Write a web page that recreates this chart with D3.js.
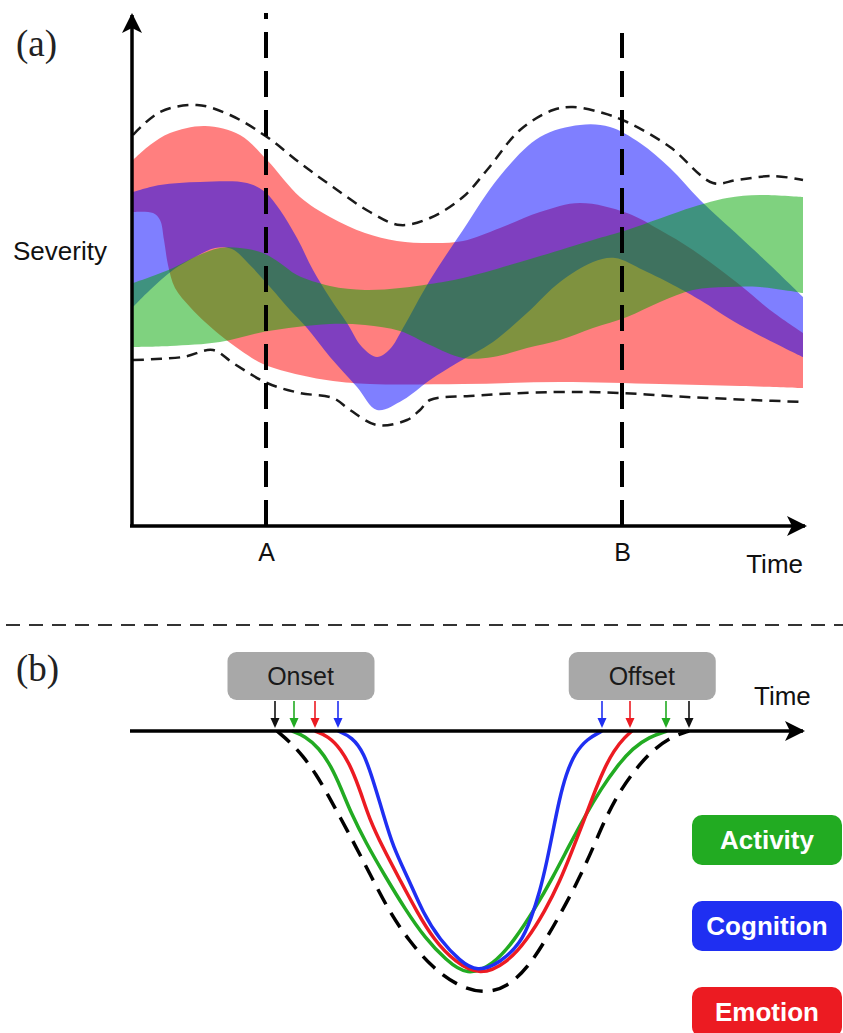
<!DOCTYPE html>
<html>
<head>
<meta charset="utf-8">
<script src="https://cdn.jsdelivr.net/npm/d3@7"></script>
<style>
  body { margin: 0; background: #fff; }
  text { font-family: "Liberation Sans", Arial, sans-serif; }
</style>
</head>
<body>
<svg width="843" height="1033"></svg>
<script>
// ---- data (a): time 0..670, severity 0..500 (arbitrary units) ----
var emotionUpper = [[0,365],[17,380],[37,392],[72,399],[107,390],[134,365],[167,328],[197,308],[232,292],[264,284],[297,282],[330,284],[367,297],[407,313],[447,322],[494,312],[527,295],[560,275],[607,240],[637,215],[670,192]];
var emotionLower = [[0,313],[20,312],[27,305],[31,285],[35,260],[42,237],[57,218],[72,203],[87,190],[107,175],[130,161],[167,150],[200,144],[237,141],[330,141],[427,143],[527,141],[607,139],[670,137]];
var cognitionUpper = [[0,333],[27,340],[67,343],[114,342],[132,333],[147,315],[164,287],[180,255],[197,227],[214,202],[229,178],[244,168],[257,176],[270,197],[297,245],[330,295],[367,349],[407,388],[447,400],[477,398],[507,382],[537,357],[567,325],[607,288],[637,260],[670,228]];
var cognitionLower = [[0,218],[17,235],[40,255],[64,269],[82,277],[99,276],[114,263],[137,238],[157,215],[174,197],[197,168],[224,138],[244,115],[270,125],[297,145],[324,162],[360,183],[394,212],[427,243],[460,263],[482,267],[510,255],[544,238],[567,225],[607,200],[670,168]];
var activityUpper = [[0,242],[17,248],[40,257],[64,269],[87,277],[107,277],[130,272],[147,262],[164,250],[197,239],[232,235],[267,237],[297,241],[330,247],[394,265],[460,285],[494,295],[560,318],[594,327],[627,330],[670,328]];
var activityLower = [[0,178],[37,179],[87,183],[130,193],[164,198],[197,201],[232,200],[267,194],[297,180],[330,167],[360,168],[394,177],[427,185],[460,197],[494,208],[527,223],[560,235],[594,238],[627,238],[670,232]];
var envelopeUpper = [[0,390],[27,413],[64,420],[97,410],[134,388],[167,362],[200,338],[237,313],[267,300],[297,307],[330,328],[354,355],[387,395],[420,415],[440,418],[470,412],[494,403],[537,378],[580,342],[604,345],[640,349],[670,345]];
var envelopeLower = [[0,165],[50,168],[80,175],[100,162],[134,142],[167,132],[200,127],[217,115],[244,100],[274,105],[287,115],[297,125],[337,129],[420,133],[487,132],[554,128],[620,125],[670,123]];
var markerTimes = [133, 489];
var markerLabels = ["A", "B"];

// ---- data (b): time 0..670, depth 0..260 ----
var activityCurve = [[159,0],[172,5],[186,17],[198,35],[208,57],[218,82],[233,112],[252,145],[272,178],[292,207],[313,229],[334,245],[360,234],[381,210],[403,176],[420,146],[436,115],[452,85],[468,58],[484,35],[500,17],[516,6],[534,0]];
var emotionCurve = [[182,0],[195,5],[208,18],[219,38],[228,62],[236,87],[250,117],[267,149],[284,181],[301,209],[322,231],[347,245],[374,232],[394,209],[412,180],[427,150],[439,120],[450,92],[460,65],[470,40],[481,19],[492,6],[499,0]];
var cognitionCurve = [[205,0],[219,6],[231,22],[240,49],[250,82],[260,116],[276,149],[290,182],[307,209],[327,230],[344,241],[367,232],[388,212],[398,188],[407,160],[414,130],[420,100],[426,70],[433,43],[442,22],[454,8],[469,0]];
var envelopeCurve = [[144,0],[157,11],[170,25],[183,43],[195,64],[207,86],[222,114],[239,147],[256,180],[276,210],[300,237],[323,254],[350,263],[375,256],[396,235],[412,210],[428,182],[445,150],[460,117],[473,86],[488,58],[505,35],[522,17],[540,5],[556,0]];
var onsetTimes = [142, 161, 182, 205];
var onsetKeys = ["All", "Activity", "Emotion", "Cognition"];
var offsetTimes = [469, 497, 533, 556];
var offsetKeys = ["Cognition", "Emotion", "Activity", "All"];
var legendNames = ["Activity", "Cognition", "Emotion"];

var bandColor = { Emotion: "#ff0000", Cognition: "#0000ff", Activity: "#00a500" };
var lineColor = { Activity: "#22ab22", Cognition: "#1f2ff2", Emotion: "#ec1b22", All: "#111" };

var svg = d3.select("svg");

// scales
var xa = d3.scaleLinear().domain([0, 670]).range([133, 803]);
var ya = d3.scaleLinear().domain([0, 500]).range([525, 25]);
var yb = d3.scaleLinear().domain([0, 260]).range([731, 991]);

var lineA = d3.line()
  .x(function (d) { return xa(d[0]); })
  .y(function (d) { return ya(d[1]); })
  .curve(d3.curveCatmullRom.alpha(0.5));

var lineB = d3.line()
  .x(function (d) { return xa(d[0]); })
  .y(function (d) { return yb(d[1]); })
  .curve(d3.curveBasis);

function bandPath(upper, lower) {
  var top = lineA(upper);
  var bottom = lineA(lower.slice().reverse());
  return top + "L" + bottom.slice(1) + "Z";
}

// arrowhead marker
svg.append("defs").append("marker")
  .attr("id", "head")
  .attr("viewBox", "0 0 10 10")
  .attr("refX", 9).attr("refY", 5)
  .attr("markerUnits", "userSpaceOnUse")
  .attr("markerWidth", 22).attr("markerHeight", 20)
  .attr("orient", "auto")
  .append("path")
  .attr("d", "M0,0L10,5L0,10L2.5,5Z")
  .attr("fill", "#000");

// ================= panel (a) =================
var bands = [
  { key: "Emotion", upper: emotionUpper, lower: emotionLower },
  { key: "Cognition", upper: cognitionUpper, lower: cognitionLower },
  { key: "Activity", upper: activityUpper, lower: activityLower }
];

svg.append("g").selectAll("path")
  .data(bands)
  .enter().append("path")
  .attr("d", function (d) { return bandPath(d.upper, d.lower); })
  .attr("fill", function (d) { return bandColor[d.key]; })
  .attr("fill-opacity", 0.5);

// dashed envelope
svg.append("g").selectAll("path")
  .data([envelopeUpper, envelopeLower])
  .enter().append("path")
  .attr("d", lineA)
  .attr("fill", "none")
  .attr("stroke", "#1a1a1a")
  .attr("stroke-width", 2.5)
  .attr("stroke-dasharray", "11,7");

// vertical markers A / B
svg.append("g").selectAll("line")
  .data(markerTimes)
  .enter().append("line")
  .attr("x1", function (d) { return xa(d); })
  .attr("x2", function (d) { return xa(d); })
  .attr("y1", 526)
  .attr("y2", function (d, i) { return i == 0 ? 13 : 33; })
  .attr("stroke", "#000")
  .attr("stroke-width", 4)
  .attr("stroke-dasharray", "26,13");

// axes
svg.append("line")
  .attr("x1", 132).attr("y1", 527).attr("x2", 132).attr("y2", 15)
  .attr("stroke", "#000").attr("stroke-width", 3.5)
  .attr("marker-end", "url(#head)");

var xAxis = svg.append("g")
  .attr("transform", "translate(0,526)")
  .call(d3.axisBottom(xa).tickValues(markerTimes)
    .tickFormat(function (d, i) { return markerLabels[i]; })
    .tickSize(0).tickPadding(17));
xAxis.select(".domain").remove();
xAxis.selectAll("text")
  .attr("font-size", "25px")
  .attr("font-family", "Liberation Sans, Arial, sans-serif")
  .attr("fill", "#111");

svg.append("line")
  .attr("x1", 130).attr("y1", 526).attr("x2", 805).attr("y2", 526)
  .attr("stroke", "#000").attr("stroke-width", 3.5)
  .attr("marker-end", "url(#head)");

svg.append("text")
  .attr("x", 803).attr("y", 573)
  .attr("text-anchor", "end")
  .attr("font-size", "26px")
  .attr("fill", "#111")
  .text("Time");

svg.append("text")
  .attr("x", 13).attr("y", 260)
  .attr("font-size", "26px")
  .attr("fill", "#111")
  .text("Severity");

svg.append("text")
  .attr("x", 16).attr("y", 56)
  .attr("font-size", "37px")
  .style("font-family", "Liberation Serif, Times New Roman, serif")
  .attr("fill", "#222")
  .text("(a)");

// separator
svg.append("line")
  .attr("x1", 6).attr("y1", 625).attr("x2", 843).attr("y2", 625)
  .attr("stroke", "#333").attr("stroke-width", 2)
  .attr("stroke-dasharray", "14,9");

// ================= panel (b) =================
svg.append("text")
  .attr("x", 16).attr("y", 681)
  .attr("font-size", "37px")
  .style("font-family", "Liberation Serif, Times New Roman, serif")
  .attr("fill", "#222")
  .text("(b)");

var curves = [
  { key: "Activity", pts: activityCurve },
  { key: "Emotion", pts: emotionCurve },
  { key: "Cognition", pts: cognitionCurve }
];

svg.append("path")
  .attr("d", lineB(envelopeCurve))
  .attr("fill", "none")
  .attr("stroke", "#000")
  .attr("stroke-width", 3.5)
  .attr("stroke-dasharray", "17,10");

svg.append("g").selectAll("path")
  .data(curves)
  .enter().append("path")
  .attr("d", function (d) { return lineB(d.pts); })
  .attr("fill", "none")
  .attr("stroke", function (d) { return lineColor[d.key]; })
  .attr("stroke-width", 3.5);

svg.append("line")
  .attr("x1", 130).attr("y1", 731).attr("x2", 803).attr("y2", 731)
  .attr("stroke", "#000").attr("stroke-width", 3.5)
  .attr("marker-end", "url(#head)");

svg.append("text")
  .attr("x", 754).attr("y", 705)
  .attr("font-size", "26px")
  .attr("fill", "#111")
  .text("Time");

// onset / offset boxes with arrows
var groups = [
  { label: "Onset", times: onsetTimes, keys: onsetKeys },
  { label: "Offset", times: offsetTimes, keys: offsetKeys }
];

groups.forEach(function (g) {
  var cx = xa(d3.mean(g.times)) - 5;
  svg.append("rect")
    .attr("x", cx - 73).attr("y", 652)
    .attr("width", 147).attr("height", 48)
    .attr("rx", 9)
    .attr("fill", "#a8a8a8");
  svg.append("text")
    .attr("x", cx).attr("y", 685)
    .attr("text-anchor", "middle")
    .attr("font-size", "25px")
    .attr("fill", "#1a1a1a")
    .text(g.label);

  var arr = svg.append("g").selectAll("g")
    .data(g.times)
    .enter().append("g")
    .attr("transform", function (d) { return "translate(" + xa(d) + ",0)"; });
  arr.append("line")
    .attr("y1", 701).attr("y2", 722)
    .attr("stroke", function (d, i) { return lineColor[g.keys[i]]; })
    .attr("stroke-width", 1.6);
  arr.append("path")
    .attr("d", "M-4.5,718L4.5,718L0,728Z")
    .attr("fill", function (d, i) { return lineColor[g.keys[i]]; });
});

// legend
var legend = svg.selectAll(".legend")
  .data(legendNames)
  .enter().append("g")
  .attr("class", "legend")
  .attr("transform", function (d, i) { return "translate(692," + (815 + i * 86) + ")"; });

legend.append("rect")
  .attr("width", 150).attr("height", 50)
  .attr("rx", 10)
  .attr("fill", function (d) { return lineColor[d]; });

legend.append("text")
  .attr("x", 75).attr("y", 34)
  .attr("text-anchor", "middle")
  .attr("font-size", "26px")
  .attr("font-weight", "bold")
  .attr("fill", "#fff")
  .text(function (d) { return d; });
</script>
</body>
</html>
